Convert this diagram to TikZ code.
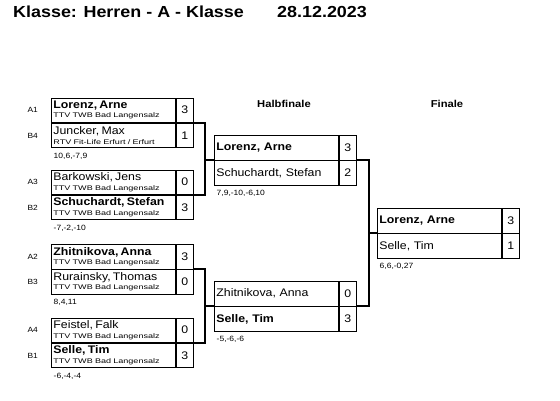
\documentclass[tikz,border=0pt]{standalone}
\usepackage{fontspec}
\setmainfont{Liberation Sans}[FakeStretch=1.12]
\newfontfamily\clubfont{Liberation Sans}[FakeStretch=1.35]
\usepackage{tikz}
\usetikzlibrary{positioning}

\newcommand{\plname}[1]{{\fontsize{11}{13}\selectfont #1}}
\newcommand{\clubtxt}[1]{{\clubfont\fontsize{6.7}{9.5}\selectfont #1}}

\begin{document}
\begin{tikzpicture}[x=1pt, y=-1pt,
  row/.style={draw, line width=0.8pt, minimum height=24.5pt, inner xsep=2pt,
              inner ysep=0pt, text width=120pt, align=left},
  entry/.style={row, font=\fontsize{6.7}{9.5}\selectfont},
  semi/.style={row, font=\fontsize{11}{13}\selectfont},
  score/.style={draw, line width=0.8pt, minimum width=17pt, minimum height=24.5pt,
                inner sep=0pt, font=\fontsize{11}{13}\selectfont},
  seed/.style={font=\fontsize{7.5}{9}\selectfont, inner sep=0pt},
  sets/.style={font=\fontsize{7.6}{9}\selectfont, inner sep=0pt, anchor=north west},
  head/.style={font=\bfseries\fontsize{10}{12}\selectfont, inner sep=0pt, anchor=base},
  conn/.style={line width=1.8pt},
  node distance=0pt
]
  \useasboundingbox (0,0) rectangle (560,400);

  % Title
  \node[anchor=base west, inner sep=0pt, font=\bfseries\fontsize{16}{19}\selectfont] (title) at (13,17.5) {Klasse: Herren - A - Klasse};
  \node[anchor=base west, inner sep=0pt, font=\bfseries\fontsize{16}{19}\selectfont] (date) at (277,17.5) {28.12.2023};

  \node[head] (hsemi) at (284,107.5) {Halbfinale};
  \node[head] (hfin) at (447,107.5) {Finale};

  % Round 1
  \node[entry, anchor=north west] (r1a) at (51,97.5) {\plname{\textbf{Lorenz, Arne}}\\\clubtxt{TTV TWB Bad Langensalz}};
  \node[score, right=of r1a] (s1a) {3};
  \node[entry, below=of r1a] (r1b) {\plname{Juncker, Max}\\\clubtxt{RTV Fit-Life Erfurt / Erfurt}};
  \node[score, right=of r1b] (s1b) {1};
  \node[seed, left=13pt of r1a] (l1a) {A1};
  \node[seed, left=13pt of r1b] (l1b) {B4};
  \node[sets] (e1) at ([shift={(2.5,4.5)}]r1b.south west) {10,6,-7,9};

  \node[entry, anchor=north west] (r2a) at (51,169.5) {\plname{Barkowski, Jens}\\\clubtxt{TTV TWB Bad Langensalz}};
  \node[score, right=of r2a] (s2a) {0};
  \node[entry, below=of r2a] (r2b) {\plname{\textbf{Schuchardt, Stefan}}\\\clubtxt{TTV TWB Bad Langensalz}};
  \node[score, right=of r2b] (s2b) {3};
  \node[seed, left=13pt of r2a] (l2a) {A3};
  \node[seed, left=13pt of r2b] (l2b) {B2};
  \node[sets] (e2) at ([shift={(2.5,4.5)}]r2b.south west) {-7,-2,-10};

  \node[entry, anchor=north west] (r3a) at (51,244) {\plname{\textbf{Zhitnikova, Anna}}\\\clubtxt{TTV TWB Bad Langensalz}};
  \node[score, right=of r3a] (s3a) {3};
  \node[entry, below=of r3a] (r3b) {\plname{Rurainsky, Thomas}\\\clubtxt{TTV TWB Bad Langensalz}};
  \node[score, right=of r3b] (s3b) {0};
  \node[seed, left=13pt of r3a] (l3a) {A2};
  \node[seed, left=13pt of r3b] (l3b) {B3};
  \node[sets] (e3) at ([shift={(2.5,4.5)}]r3b.south west) {8,4,11};

  \node[entry, anchor=north west] (r4a) at (51,317.5) {\plname{Feistel, Falk}\\\clubtxt{TTV TWB Bad Langensalz}};
  \node[score, right=of r4a] (s4a) {0};
  \node[entry, below=of r4a] (r4b) {\plname{\textbf{Selle, Tim}}\\\clubtxt{TTV TWB Bad Langensalz}};
  \node[score, right=of r4b] (s4b) {3};
  \node[seed, left=13pt of r4a] (l4a) {A4};
  \node[seed, left=13pt of r4b] (l4b) {B1};
  \node[sets] (e4) at ([shift={(2.5,4.5)}]r4b.south west) {-6,-4,-4};

  % Halbfinale
  \node[semi, anchor=north west] (h1a) at (214,135) {\textbf{Lorenz, Arne}};
  \node[score, right=of h1a] (t1a) {3};
  \node[semi, below=of h1a] (h1b) {Schuchardt, Stefan};
  \node[score, right=of h1b] (t1b) {2};
  \node[sets] (e5) at ([shift={(2.5,4.5)}]h1b.south west) {7,9,-10,-6,10};

  \node[semi, anchor=north west] (h2a) at (214,281) {Zhitnikova, Anna};
  \node[score, right=of h2a] (t2a) {0};
  \node[semi, below=of h2a] (h2b) {\textbf{Selle, Tim}};
  \node[score, right=of h2b] (t2b) {3};
  \node[sets] (e6) at ([shift={(2.5,4.5)}]h2b.south west) {-5,-6,-6};

  % Finale
  \node[semi, anchor=north west] (fa) at (377,208) {\textbf{Lorenz, Arne}};
  \node[score, right=of fa] (ua) {3};
  \node[semi, below=of fa] (fb) {Selle, Tim};
  \node[score, right=of fb] (ub) {1};
  \node[sets] (e7) at ([shift={(2.5,4.5)}]fb.south west) {6,6,-0,27};

  % Connectors
  \draw[conn] (s1a.south east) -- ++(11,0) coordinate (j1) |- (s2a.south east);
  \draw[conn] (j1 |- h1a.south west) -- (h1a.south west);
  \draw[conn] (s3a.south east) -- ++(11,0) coordinate (j2) |- (s4a.south east);
  \draw[conn] (j2 |- h2a.south west) -- (h2a.south west);
  \draw[conn] (t1a.south east) -- ++(12,0) coordinate (j3) |- (t2a.south east);
  \draw[conn] (j3 |- fa.south west) -- (fa.south west);
\end{tikzpicture}
\end{document}
